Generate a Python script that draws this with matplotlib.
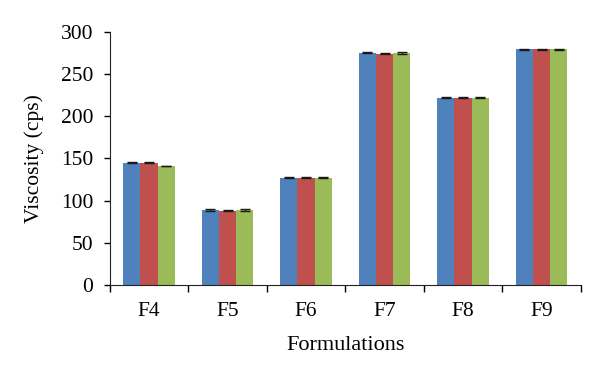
import matplotlib
matplotlib.use("Agg")
import matplotlib.pyplot as plt
import numpy as np

categories = ["F4", "F5", "F6", "F7", "F8", "F9"]
series_1 = [145, 89, 127, 275, 222, 279]
series_2 = [145, 88, 127, 274, 222, 279]
series_3 = [141, 89, 127, 275, 222, 279]
err_1 = [0.5, 1.0, 0.5, 0.5, 0.5, 1.0]
err_2 = [1.0, 0.5, 0.5, 0.5, 0.5, 1.0]
err_3 = [0.5, 1.0, 0.5, 1.0, 0.5, 0.5]

plt.rcParams['font.family'] = ['Liberation Serif', 'DejaVu Serif']

fig = plt.figure(figsize=(6, 3.78), dpi=100)
ax = fig.add_axes([0.183, 0.246, 0.785, 0.67])

x = np.arange(len(categories))
w = 0.22
colors = ["#4F81BD", "#C0504D", "#9BBB59"]
for i, (vals, errs) in enumerate([(series_1, err_1), (series_2, err_2), (series_3, err_3)]):
    ax.bar(x + (i - 1) * w, vals, w, color=colors[i], yerr=errs,
           error_kw=dict(ecolor="#1a1a1a", elinewidth=0.8, capsize=3.5, capthick=1.0))

ax.set_xlim(-0.5, len(categories) - 0.5)
ax.set_ylim(0, 300)
ax.set_yticks(range(0, 301, 50))
ax.set_xticks(x)
ax.set_xticklabels(categories)
ax.set_xticks(np.arange(-0.5, len(categories), 1.0), minor=True)
ax.tick_params(axis="x", which="major", length=0, pad=12, labelsize=15.5)
ax.tick_params(axis="x", which="minor", length=5, width=1)
ax.tick_params(axis="y", length=4, width=1, pad=8, labelsize=15.5)

for s in ["top", "right"]:
    ax.spines[s].set_visible(False)
for s in ["left", "bottom"]:
    ax.spines[s].set_color("#222222")

ax.set_ylabel("Viscosity (cps)", fontsize=15.5, labelpad=12)
ax.set_xlabel("Formulations", fontsize=16, labelpad=11)

fig.savefig("out.png", dpi=100)
